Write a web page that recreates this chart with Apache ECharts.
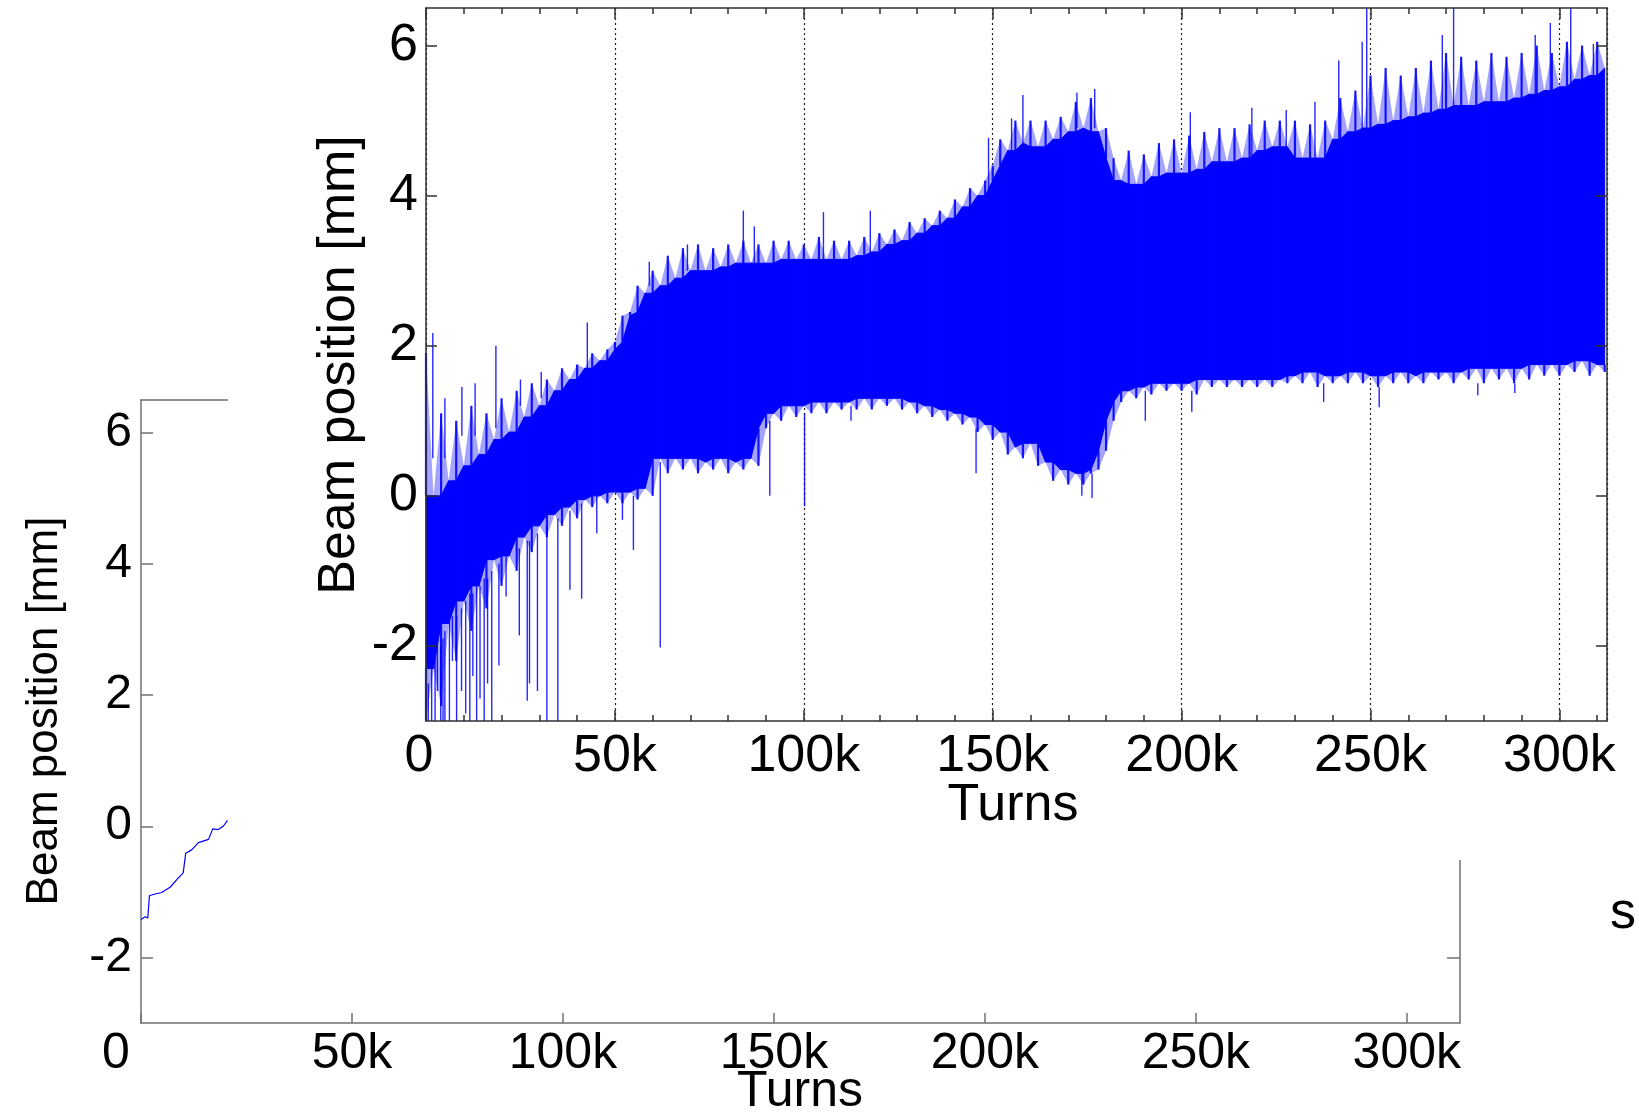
<!DOCTYPE html>
<html><head><meta charset="utf-8">
<script src="https://cdn.jsdelivr.net/npm/echarts@6/dist/echarts.min.js"></script>
<style>html,body{margin:0;padding:0;background:#fff}#c{width:1639px;height:1113px}</style>
</head><body><div id="c"></div>
<script>
// ---- front plot: beam position band (turns in thousands) ----
const bandTurnsK = [0,2,4,6,8,10,12,14,16,18,20,22,24,26,28,30,32,34,36,38,40,42,44,46,48,50,52,54,56,58,60,
62,64,66,68,70,72,74,76,78,80,82,84,86,88,90,92,94,96,98,100,102,104,106,108,110,112,114,116,118,120,
122,124,126,128,130,132,134,136,138,140,142,144,146,148,150,152,154,156,158,160,162,164,166,168,170,172,
174,176,178,180,182,184,186,188,190,192,194,196,198,200,202,204,206,208,210,212,214,216,218,220,222,224,
226,228,230,232,234,236,238,240,242,244,246,248,250,252,254,256,258,260,262,264,266,268,270,272,274,276,
278,280,282,284,286,288,290,292,294,296,298,300,302,304,306,308,310,312];
const bandHigh = [1.9,0.0,1.1,0.2,1.0,0.4,1.2,0.55,1.1,0.75,1.3,0.85,1.4,1.05,1.5,1.2,1.55,1.4,1.7,1.55,1.75,1.7,1.9,1.8,1.95,2.05,2.4,2.45,2.8,2.7,3.0,
2.8,3.2,2.9,3.3,3.0,3.35,3.0,3.3,3.05,3.35,3.1,3.4,3.1,3.35,3.1,3.4,3.15,3.4,3.15,3.35,3.15,3.45,3.15,3.4,3.15,3.4,3.2,3.45,3.25,3.5,
3.35,3.55,3.4,3.65,3.5,3.7,3.6,3.8,3.7,3.95,3.85,4.1,4.0,4.2,4.4,4.75,4.6,5.0,4.7,5.0,4.65,5.0,4.75,5.05,4.85,5.25,
4.9,5.3,4.85,4.9,4.5,4.2,4.6,4.15,4.55,4.25,4.7,4.3,4.75,4.3,4.8,4.35,4.85,4.45,4.9,4.45,4.9,4.5,4.95,4.6,5.0,4.65,
5.0,4.65,5.0,4.5,4.95,4.5,5.0,4.75,5.3,4.85,5.4,4.9,5.6,4.95,5.7,5.0,5.6,5.05,5.7,5.1,5.8,5.15,5.9,5.2,5.85,5.2,
5.8,5.25,5.9,5.25,5.85,5.3,5.9,5.35,6.0,5.4,5.9,5.45,6.05,5.55,6.0,5.6,6.05,5.7];
const bandLow = [-3.0,-2.3,-2.8,-1.7,-2.2,-1.4,-1.8,-1.2,-1.5,-0.85,-1.2,-0.8,-1.0,-0.55,-0.75,-0.4,-0.55,-0.25,-0.4,-0.15,-0.3,-0.05,-0.15,0.0,-0.1,0.05,-0.1,0.05,-0.05,0.1,0.0,
0.5,0.3,0.5,0.35,0.5,0.3,0.45,0.35,0.5,0.3,0.45,0.35,0.5,0.4,0.9,1.1,1.0,1.2,1.05,1.2,1.1,1.25,1.1,1.25,1.15,1.25,1.15,1.3,1.15,1.3,
1.2,1.3,1.15,1.25,1.1,1.2,1.05,1.15,1.0,1.1,0.95,1.05,0.85,0.95,0.75,0.85,0.55,0.65,0.5,0.7,0.4,0.45,0.2,0.35,0.15,0.3,
0.15,0.3,0.35,0.6,1.0,1.25,1.4,1.3,1.45,1.35,1.5,1.4,1.5,1.4,1.5,1.35,1.55,1.45,1.55,1.45,1.55,1.45,1.55,1.45,1.55,1.45,
1.55,1.5,1.6,1.5,1.65,1.45,1.6,1.5,1.6,1.5,1.65,1.5,1.6,1.45,1.6,1.5,1.65,1.5,1.6,1.5,1.65,1.55,1.65,1.5,1.65,1.55,
1.7,1.5,1.7,1.55,1.7,1.5,1.7,1.55,1.75,1.6,1.75,1.6,1.75,1.65,1.8,1.6,1.75,1.65];
// isolated spikes: [turns (k), from, to]
const upSpikes = [[1.8,0.5,2.17],[5.0,0.5,1.3],[9.5,0.8,1.45],[13.0,0.8,1.5],[18.5,0.9,2.0],[25.0,1.2,1.55],[30.5,1.3,1.65],
[42.7,1.7,2.31],[59.1,2.8,3.12],[69.2,3.0,3.35],[84.0,3.1,3.8],[86.9,3.1,3.59],[105.2,3.15,3.78],[117.6,3.2,3.8],
[148.9,4.0,4.77],[155.0,4.6,5.03],[158.0,4.6,5.34],[172.3,4.9,5.37],[177.0,4.9,5.42],[202.3,4.3,5.11],[218.6,4.5,5.17],
[227.7,4.6,5.14],[235.3,4.5,5.25],[241.6,4.6,5.8],[247.8,4.8,6.05],[249.0,4.8,6.5],[269.0,5.1,6.14],[272.0,5.1,6.5],
[293.6,5.3,6.14],[297.6,5.4,6.3],[303.0,5.5,6.5],[309.0,5.6,6.02]];
const downSpikes = [[0.6,-2.5,-3],[1.5,-2.3,-3],[2.4,-2.0,-3],[3.0,-2.0,-2.6],[3.9,-2.0,-3],[4.5,-1.9,-3],[5.0,-1.8,-3],
[6.2,-1.6,-3],[7.0,-1.6,-2.2],[8.1,-1.6,-3],[9.4,-1.5,-2.6],[10.5,-1.4,-2.9],[11.6,-1.3,-3],[12.4,-1.3,-2.4],[13.4,-1.2,-3],
[14.3,-1.2,-2.7],[15.4,-1.1,-3],[16.3,-1.1,-2.5],[17.4,-1.0,-3],[19.3,-0.9,-2.26],[21.2,-0.8,-1.34],[24.7,-0.7,-1.86],
[26.8,-0.6,-2.73],[27.4,-0.6,-2.5],[29.5,-0.5,-2.6],[32.0,-0.4,-3],[34.9,-0.3,-3],[38.1,-0.2,-1.25],[41.2,-0.1,-1.37],
[45.2,0.0,-0.5],[52.0,0.0,-0.32],[54.9,0.0,-0.72],[62.0,0.45,-2.02],[91.0,1.0,0.0],[100.2,1.1,-0.14],[112.5,1.2,1.0],
[145.6,0.9,0.3],[173.6,0.3,0.0],[176.3,0.3,-0.03],[190.4,1.4,1.0],[202.7,1.4,1.12],[237.6,1.5,1.25],[252.3,1.45,1.18],
[278.4,1.5,1.34],[288.2,1.5,1.37]];
// ---- back plot (mostly hidden) ----
const backTurnsK = [0,0.95,1.6,2.0,2.9,4.9,6.9,8.8,10.0,10.6,12.0,13.6,16.0,17.0,18.3,19.5,20.5];
const backPosition = [-1.42,-1.38,-1.40,-1.06,-1.04,-1.01,-0.93,-0.79,-0.71,-0.41,-0.36,-0.25,-0.20,-0.04,-0.05,0.0,0.09];
// ---- ticks ----
const xTickValues = [0,50000,100000,150000,200000,250000,300000];
const xMinorTicks = [10000,20000,30000,40000,60000,70000,80000,90000,110000,120000,130000,140000,160000,170000,180000,190000,
210000,220000,230000,240000,260000,270000,280000,290000,310000];
const yTickValues = [-2,0,2,4,6];
const X_MAX = 312600, Y_MIN = -3, Y_MAX = 6.5;

const FONT = "'Liberation Sans', Arial, Helvetica, sans-serif";
const FC = '#303030', BC = '#707070';
const BLUE = '#0000ff';
function kfmt(pad, size){
  return {
    customValues: xTickValues,
    formatter: v => v === 0 ? '{a|0}' : (v/1000) + 'k',
    rich: {a: {padding:[0,pad,0,0], fontSize:size, fontFamily:FONT, color:'#000'}}
  };
}
// solid core of the band: the lower of neighbouring tops / higher of neighbouring bottoms
function coreHi(i){ const n = bandHigh.length; return Math.min(bandHigh[Math.max(i-1,0)], bandHigh[i], bandHigh[Math.min(i+1,n-1)]); }
function coreLo(i){ const n = bandLow.length; return Math.max(bandLow[Math.max(i-1,0)], bandLow[i], bandLow[Math.min(i+1,n-1)]); }

const chart = echarts.init(document.getElementById('c'), null, {renderer:'canvas'});
const xBase = {type:'value', min:0, max:X_MAX, interval:50000, splitLine:{show:false}};
const yBase = {type:'value', min:Y_MIN, max:Y_MAX, interval:2, splitLine:{show:false}};
const none = {axisLine:{show:false}, axisTick:{show:false}, axisLabel:{show:false}};
function line(c){ return {show:true, onZero:false, lineStyle:{color:c, width:1.5}}; }

const option = {
  animation: false,
  backgroundColor: '#fff',
  grid: [
    {left:141, top:400, width:1319, height:623, z:1},
    {left:426, top:8, width:1181, height:713, z:10}
  ],
  xAxis: [
    Object.assign({}, xBase, {gridIndex:0, position:'bottom', z:1,
      axisLine:line(BC),
      axisTick:{show:true, inside:true, length:10, customValues:xTickValues, lineStyle:{color:BC, width:1.5}},
      axisLabel:Object.assign({show:true, margin:6, fontSize:50, fontFamily:FONT, color:'#000'}, kfmt(50,50))}),
    Object.assign({}, xBase, {gridIndex:0, position:'top', z:1,
      axisLine:line(BC), axisTick:{show:false}, axisLabel:{show:false}}),
    Object.assign({}, xBase, none, {gridIndex:1, position:'bottom', z:8,
      axisLine:{show:false, onZero:false},
      splitLine:{show:true, lineStyle:{color:'#222', width:1.2, type:[2,3]}}}),
    Object.assign({}, xBase, {gridIndex:1, position:'bottom', z:20,
      axisLine:line(FC),
      axisTick:{show:true, inside:true, length:11, customValues:xTickValues, lineStyle:{color:FC, width:1.5}},
      axisLabel:Object.assign({show:true, margin:10, fontSize:52, fontFamily:FONT, color:'#000'}, kfmt(14,52))}),
    Object.assign({}, xBase, none, {gridIndex:1, position:'bottom', z:20,
      axisLine:{show:false, onZero:false},
      axisTick:{show:true, inside:true, length:6, customValues:xMinorTicks, lineStyle:{color:FC, width:1.5}}}),
    Object.assign({}, xBase, {gridIndex:1, position:'top', z:20,
      axisLine:line(FC),
      axisTick:{show:true, inside:true, length:11, customValues:xTickValues, lineStyle:{color:FC, width:1.5}},
      axisLabel:{show:false}}),
    Object.assign({}, xBase, none, {gridIndex:1, position:'top', z:20,
      axisLine:{show:false, onZero:false},
      axisTick:{show:true, inside:true, length:6, customValues:xMinorTicks, lineStyle:{color:FC, width:1.5}}})
  ],
  yAxis: [
    Object.assign({}, yBase, {gridIndex:0, position:'left', z:1,
      axisLine:line(BC),
      axisTick:{show:true, inside:true, length:12, customValues:yTickValues, lineStyle:{color:BC, width:1.5}},
      axisLabel:{show:true, customValues:yTickValues, margin:9, fontSize:48, fontFamily:FONT, color:'#000'}}),
    Object.assign({}, yBase, {gridIndex:0, position:'right', z:1,
      axisLine:line(BC),
      axisTick:{show:true, inside:true, length:13, customValues:yTickValues, lineStyle:{color:BC, width:1.5}},
      axisLabel:{show:false}}),
    Object.assign({}, yBase, {gridIndex:1, position:'left', z:20,
      axisLine:line(FC),
      axisTick:{show:true, inside:true, length:11, customValues:yTickValues, lineStyle:{color:FC, width:1.5}},
      axisLabel:{show:true, customValues:yTickValues, margin:8, fontSize:52, fontFamily:FONT, color:'#000'}}),
    Object.assign({}, yBase, {gridIndex:1, position:'right', z:20,
      axisLine:line(FC),
      axisTick:{show:true, inside:true, length:11, customValues:yTickValues, lineStyle:{color:FC, width:1.5}},
      axisLabel:{show:false}})
  ],
  graphic: [
    {type:'text', x:45, y:711, rotation:Math.PI/2, z:1,
      style:{text:'Beam position [mm]', fontSize:44, fontFamily:FONT, fill:'#000', align:'center', verticalAlign:'middle', textAlign:'center', textVerticalAlign:'middle'}},
    {type:'text', x:800, y:1092, z:1,
      style:{text:'Turns', fontSize:50, fontFamily:FONT, fill:'#000', align:'center', verticalAlign:'middle', textAlign:'center', textVerticalAlign:'middle'}},
    {type:'text', x:1623, y:914, z:1,
      style:{text:'s', fontSize:52, fontFamily:FONT, fill:'#000', align:'center', verticalAlign:'middle', textAlign:'center', textVerticalAlign:'middle'}},
    {type:'rect', shape:{x:228, y:0, width:1411, height:860}, z:5, style:{fill:'#ffffff'}},
    {type:'text', x:340, y:365, rotation:Math.PI/2, z:30,
      style:{text:'Beam position [mm]', fontSize:52, fontFamily:FONT, fill:'#000', align:'center', verticalAlign:'middle', textAlign:'center', textVerticalAlign:'middle'}},
    {type:'text', x:1013, y:806, z:30,
      style:{text:'Turns', fontSize:52, fontFamily:FONT, fill:'#000', align:'center', verticalAlign:'middle', textAlign:'center', textVerticalAlign:'middle'}}
  ],
  series: [
    {type:'line', xAxisIndex:0, yAxisIndex:0, z:2, symbol:'none', showSymbol:false,
      lineStyle:{color:BLUE, width:1.2},
      data: backTurnsK.map((t,i)=>[t*1000, backPosition[i]])},
    // fuzzy outer fringe (light) + solid core + comb lines
    {type:'custom', xAxisIndex:3, yAxisIndex:2, z:10,
      encode:{x:0, y:[1,2]},
      data: bandTurnsK.map((t,i)=>[t*1000, bandLow[i], bandHigh[i]]),
      renderItem: function(params, api){
        const i = params.dataIndex;
        const children = [];
        const x = bandTurnsK[i]*1000;
        if (i < bandTurnsK.length - 1) {
          const x2 = bandTurnsK[i+1]*1000;
          const oa = api.coord([x, bandHigh[i]]), ob = api.coord([x2, bandHigh[i+1]]);
          const oc = api.coord([x2, bandLow[i+1]]), od = api.coord([x, bandLow[i]]);
          children.push({type:'polygon', z2:1, shape:{points:[oa,ob,oc,od]}, style:{fill:'#5a5aff', opacity:0.55}});
          const a = api.coord([x, coreHi(i)]), b = api.coord([x2, coreHi(i+1)]);
          const c = api.coord([x2, coreLo(i+1)]), d = api.coord([x, coreLo(i)]);
          children.push({type:'polygon', z2:2, shape:{points:[a,b,c,d]}, style:{fill:BLUE, stroke:BLUE, lineWidth:1}});
        }
        const t0 = api.coord([x, coreHi(i)]), t1 = api.coord([x, bandHigh[i]]);
        const b0 = api.coord([x, coreLo(i)]), b1 = api.coord([x, bandLow[i]]);
        if (t1[1] < t0[1] - 0.5) children.push({type:'line', z2:3, shape:{x1:t0[0], y1:t0[1], x2:t1[0], y2:t1[1]}, style:{stroke:BLUE, lineWidth:2.2, opacity:0.9}});
        if (b1[1] > b0[1] + 0.5) children.push({type:'line', z2:3, shape:{x1:b0[0], y1:b0[1], x2:b1[0], y2:b1[1]}, style:{stroke:BLUE, lineWidth:2.2, opacity:0.9}});
        return {type:'group', children:children};
      }},
    {type:'custom', xAxisIndex:3, yAxisIndex:2, z:11,
      encode:{x:0, y:[1,2]},
      data: upSpikes.concat(downSpikes).map(s=>[s[0]*1000, s[1], s[2]]),
      renderItem: function(params, api){
        const p = api.coord([api.value(0), api.value(1)]);
        const q = api.coord([api.value(0), api.value(2)]);
        return {type:'line', shape:{x1:p[0], y1:p[1], x2:q[0], y2:q[1]}, style:{stroke:BLUE, lineWidth:1.4, opacity:0.85}};
      }}
  ]
};
chart.setOption(option);
</script></body></html>
